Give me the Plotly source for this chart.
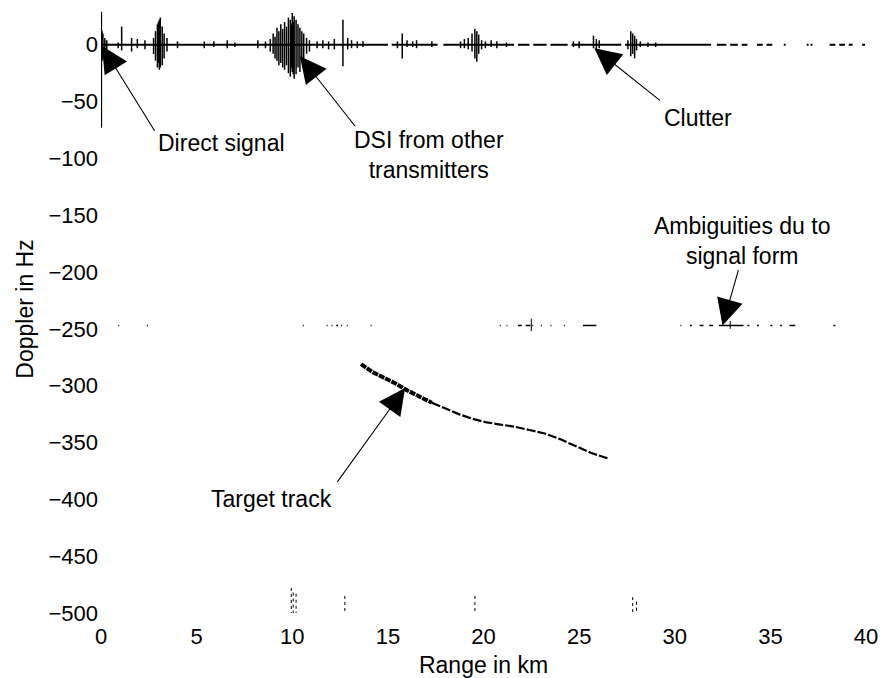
"""Range-Doppler detections with annotated features."""

import plotly.graph_objects as go

FONT = "Liberation Sans, Arial, Helvetica, sans-serif"

# vertical spikes around zero Doppler: range (km), top (Hz), bottom (Hz)
spike_km = [0.02, 0.06, 0.1, 0.2, 0.3, 0.9, 1.08, 1.6, 1.9, 2.3,
            2.75, 2.85, 2.95, 3.0, 3.05, 3.1, 3.2, 3.3, 3.45,
            4.0, 5.4, 5.9, 6.6, 7.0, 8.2, 8.6,
            8.85, 9.0, 9.1, 9.2, 9.3, 9.4, 9.5, 9.6, 9.7, 9.8, 9.9, 9.95, 10.0,
            10.05, 10.1, 10.2, 10.3, 10.4, 10.5, 10.6, 10.75, 10.9,
            11.3, 11.6, 11.9, 12.2, 12.65, 12.9, 13.1, 13.4, 13.7,
            15.5, 15.75, 16.0, 16.3, 16.5, 17.3,
            18.8, 19.0, 19.2, 19.4, 19.55, 19.65, 19.75, 19.9, 20.1, 20.4, 20.7, 21.2,
            24.7, 25.0, 25.75, 25.9, 26.05,
            27.55, 27.7, 27.8, 27.9, 28.0, 28.2, 28.6, 29.0]
spike_top = [29, 12, 10, 6, 4, 2, 16, 6, 5, 4,
             6, 12, 18, 20, 22, 24, 16, 10, 6,
             3, 3, 3, 4, 2, 4, 3,
             5, 10, 7, 15, 12, 18, 14, 20, 16, 24, 22, 18, 28,
             20, 25, 22, 18, 15, 12, 10, 6, 4,
             3, 4, 3, 5, 22, 6, 4, 3, 3,
             3, 10, 4, 3, 4, 3,
             3, 5, 6, 10, 14, 12, 9, 4, 3, 4, 3, 2,
             3, 3, 8, 5, 4,
             4, 12, 10, 8, 5, 3, 2, 2]
spike_bottom = [-73, -14, -10, -8, -5, -3, -5, -6, -3, -4,
                -8, -14, -20, -16, -22, -20, -18, -12, -6,
                -3, -3, -2, -3, -2, -3, -3,
                -6, -8, -12, -14, -18, -16, -20, -22, -18, -25, -28, -20, -24,
                -26, -30, -26, -20, -24, -14, -12, -8, -6,
                -3, -3, -4, -4, -19, -4, -3, -3, -2,
                -3, -12, -2, -2, -3, -2,
                -3, -3, -4, -6, -12, -15, -8, -4, -3, -2, -3, -2,
                -2, -3, -3, -4, -3,
                -4, -10, -8, -12, -5, -2, -2, -2]

# zero-Doppler clutter ridge: start / end of each drawn piece (km)
ridge_start = [0.0, 15.2, 17.9, 21.8, 22.6, 23.5, 24.6, 27.4,
               32.2, 32.9, 33.5, 34.3, 34.8, 35.7, 36.9, 37.1, 38.1, 38.6, 39.1, 39.8]
ridge_end = [15.0, 17.6, 21.6, 22.4, 23.3, 24.4, 27.2, 31.9,
             32.7, 33.3, 33.8, 34.6, 35.1, 35.8, 37.0, 37.2, 38.4, 38.9, 39.3, 39.95]

# ambiguity line caused by the signal form
AMBIG_HZ = -247
ambig_start = [0.9, 2.4, 10.55, 11.8, 12.05, 12.3, 12.55, 12.85, 14.1, 20.85, 21.2,
               21.8, 22.2, 22.55, 23.0, 23.5, 24.2, 25.2, 30.3, 30.8, 31.3, 31.8,
               32.3, 33.8, 34.3, 35.0, 35.5, 36.0, 38.3]
ambig_end = [0.95, 2.45, 10.6, 11.85, 12.1, 12.4, 12.6, 12.9, 14.15, 20.9, 21.25,
             22.0, 22.45, 22.6, 23.05, 23.55, 24.25, 25.9, 30.35, 30.9, 31.5, 32.0,
             33.6, 33.9, 34.4, 35.1, 35.6, 36.3, 38.4]
ambig_spike_km = [22.5, 32.9]
ambig_spike_top = [-241, -243]
ambig_spike_bottom = [-252, -250]

# wrapped detections at the lower Doppler edge
edge_km = [9.95, 10.05, 10.2, 12.75, 19.55, 27.8, 28.0]
edge_top = [-478, -482, -483, -485, -485, -486, -490]

# target track: dense first part, thinner second part
track_km_a = [13.6, 14.2, 14.8, 15.4, 16.0, 16.6, 17.3]
track_hz_a = [-281, -288, -293, -298, -304, -309, -315]
track_km_b = [17.3, 18.0, 18.7, 19.4, 20.1, 20.8, 21.6, 22.4, 23.2, 24.0, 24.8, 25.6, 26.5]
track_hz_b = [-315, -320, -325, -329, -332, -334, -336, -339, -342, -347, -353, -359, -364]

x_ticks = [0, 5, 10, 15, 20, 25, 30, 35, 40]
y_ticks = [0, -50, -100, -150, -200, -250, -300, -350, -400, -450, -500]
y_tick_text = ["0" if v == 0 else "\u2212" + str(-v) for v in y_ticks]

# labels: text centre (km, Hz)
notes = ["Direct signal", "DSI from other<br>transmitters", "Clutter",
         "Ambiguities du to<br>signal form", "Target track"]
text_km = [6.3, 17.15, 31.2, 33.5, 8.9]
text_hz = [-86, -97, -64, -173, -400]

# arrows: tip (km, Hz) and tail (km, Hz)
tip_km = [0.05, 10.4, 25.8, 32.5, 15.9]
tip_hz = [-1, -10, -3, -247, -302]
tail_km = [2.85, 13.35, 29.3, 33.35, 12.3]
tail_hz = [-77, -73, -50, -197, -386]


def vertical(xs, tops, bottoms):
    px, py = [], []
    for x, t, b in zip(xs, tops, bottoms):
        px += [x, x, None]
        py += [t, b, None]
    return px, py


def horizontal(starts, ends, level):
    px, py = [], []
    for s, e in zip(starts, ends):
        px += [s, e, None]
        py += [level, level, None]
    return px, py


fig = go.Figure()

sx, sy = vertical(spike_km, spike_top, spike_bottom)
fig.add_trace(go.Scatter(x=sx, y=sy, mode="lines", line=dict(color="black", width=1.5)))

rx, ry = horizontal(ridge_start, ridge_end, 0)
fig.add_trace(go.Scatter(x=rx, y=ry, mode="lines", line=dict(color="black", width=2)))

ax_, ay_ = horizontal(ambig_start, ambig_end, AMBIG_HZ)
fig.add_trace(go.Scatter(x=ax_, y=ay_, mode="lines", line=dict(color="black", width=1.5)))
bx, by = vertical(ambig_spike_km, ambig_spike_top, ambig_spike_bottom)
fig.add_trace(go.Scatter(x=bx, y=by, mode="lines", line=dict(color="black", width=1)))

ex, ey = vertical(edge_km, edge_top, [-500] * len(edge_km))
fig.add_trace(go.Scatter(x=ex, y=ey, mode="lines",
                         line=dict(color="black", width=1, dash="dot")))

fig.add_trace(go.Scatter(x=track_km_a, y=track_hz_a, mode="lines",
                         line=dict(color="black", width=4, dash="6px,1px")))
fig.add_trace(go.Scatter(x=track_km_b, y=track_hz_b, mode="lines",
                         line=dict(color="black", width=2.2, dash="9px,2px")))

for text, tx, ty in zip(notes, text_km, text_hz):
    fig.add_annotation(x=tx, y=ty, text=text, showarrow=False,
                       font=dict(family=FONT, size=23, color="black"))

for hx, hy, qx, qy in zip(tip_km, tip_hz, tail_km, tail_hz):
    fig.add_annotation(
        x=hx, y=hy, ax=qx, ay=qy, axref="x", ayref="y", text="",
        showarrow=True, arrowhead=2, arrowsize=4.8, arrowwidth=1.1, arrowcolor="black",
        standoff=0,
    )

fig.update_layout(
    width=883, height=678,
    margin=dict(l=101, r=17, t=5, b=65),
    paper_bgcolor="white", plot_bgcolor="white",
    showlegend=False,
    font=dict(family=FONT, size=22, color="black"),
    xaxis=dict(range=[0, 40], tickvals=x_ticks, showgrid=False, zeroline=False,
               showline=False, ticks="", ticklabelstandoff=8,
               title=dict(text="Range in km", standoff=8, font=dict(size=23))),
    yaxis=dict(range=[-500, 35], tickvals=y_ticks, ticktext=y_tick_text, showgrid=False,
               zeroline=False, showline=False, ticks="", ticklabelstandoff=2,
               title=dict(text="Doppler in Hz", standoff=8, font=dict(size=23))),
)

fig.write_html("out.html", config={"displayModeBar": False},
               post_script="document.body.style.margin='0';")
